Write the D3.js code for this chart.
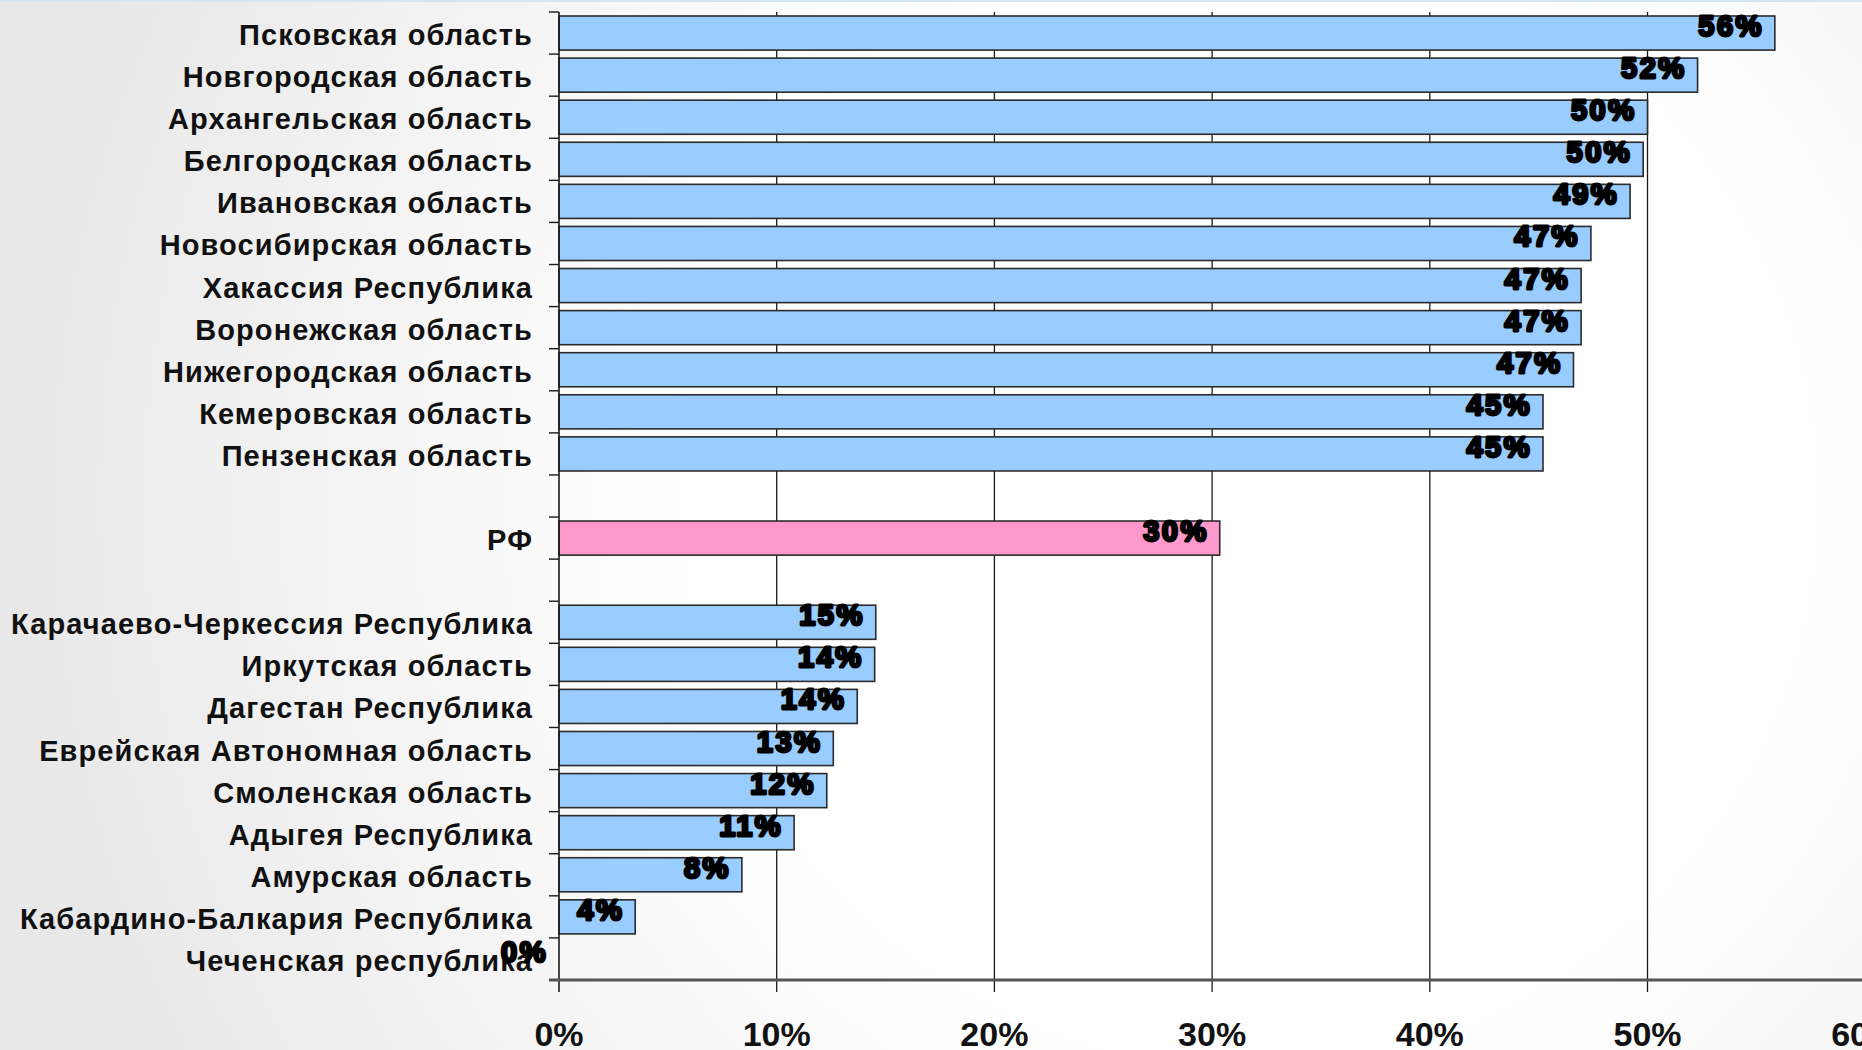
<!DOCTYPE html>
<html>
<head>
<meta charset="utf-8">
<script src="https://cdn.jsdelivr.net/npm/d3@7/dist/d3.min.js"></script>
<style>
  html, body { margin: 0; padding: 0; }
  body { width: 1862px; height: 1050px; overflow: hidden; }
  svg { display: block; }
</style>
</head>
<body>
<svg id="chart" width="1862" height="1050"></svg>
<script>
// ---- data ----
const topRegions = ["Псковская область", "Новгородская область", "Архангельская область", "Белгородская область",
  "Ивановская область", "Новосибирская область", "Хакассия Республика", "Воронежская область",
  "Нижегородская область", "Кемеровская область", "Пензенская область"];
const topValues = [55.85, 52.3, 50.0, 49.8, 49.2, 47.4, 46.95, 46.95, 46.6, 45.2, 45.2];
const topLabels = ["56%", "52%", "50%", "50%", "49%", "47%", "47%", "47%", "47%", "45%", "45%"];

const rfCategory = "РФ";
const rfValue = 30.35;
const rfLabel = "30%";

const bottomRegions = ["Карачаево-Черкессия Республика", "Иркутская область", "Дагестан Республика",
  "Еврейская Автономная область", "Смоленская область", "Адыгея Республика", "Амурская область",
  "Кабардино-Балкария Республика", "Чеченская республика"];
const bottomValues = [14.55, 14.5, 13.7, 12.6, 12.3, 10.8, 8.4, 3.5, 0];
const bottomLabels = ["15%", "14%", "14%", "13%", "12%", "11%", "8%", "4%", "0%"];

const xTickValues = [0, 10, 20, 30, 40, 50, 60];
const xTickLabels = ["0%", "10%", "20%", "30%", "40%", "50%", "60%"];

// ---- build rows ----
const rows = [];
topRegions.forEach((c, i) => rows.push({key: c, name: c, value: topValues[i], label: topLabels[i], kind: "region"}));
rows.push({key: "__gap1", name: "", value: null, label: "", kind: "gap"});
rows.push({key: rfCategory, name: rfCategory, value: rfValue, label: rfLabel, kind: "rf"});
rows.push({key: "__gap2", name: "", value: null, label: "", kind: "gap"});
bottomRegions.forEach((c, i) => rows.push({key: c, name: c, value: bottomValues[i], label: bottomLabels[i], kind: "region"}));

const svg = d3.select("#chart");
const W = 1862, H = 1050;

// background
const defs = svg.append("defs");
const grad = defs.append("radialGradient").attr("id", "bg")
  .attr("gradientUnits", "userSpaceOnUse")
  .attr("cx", 1250).attr("cy", 500).attr("r", 1250);
grad.append("stop").attr("offset", "0").attr("stop-color", "#ffffff");
grad.append("stop").attr("offset", "0.45").attr("stop-color", "#ffffff");
grad.append("stop").attr("offset", "1").attr("stop-color", "#e8e8e8");
svg.append("rect").attr("width", W).attr("height", H).attr("fill", "url(#bg)");
svg.append("rect").attr("x", 0).attr("y", 0).attr("width", W).attr("height", 2).attr("fill", "#d4e5f5");

// scales
const x = d3.scaleLinear().domain([0, 60]).range([559, 559 + 60 * 21.77]);
const y = d3.scaleBand().domain(rows.map(d => d.key)).range([12, 980]).paddingInner(0.19).paddingOuter(0.095);
const gapHalf = (y.step() - y.bandwidth()) / 2;

// vertical gridlines
svg.append("g").selectAll("line").data(xTickValues.slice(1)).join("line")
  .attr("x1", d => x(d)).attr("x2", d => x(d))
  .attr("y1", 12).attr("y2", 992)
  .attr("stroke", "#1a1a1a").attr("stroke-width", 1.3);

// bars
svg.append("g").selectAll("rect").data(rows.filter(d => d.kind !== "gap" && d.value > 0)).join("rect")
  .attr("x", x(0))
  .attr("y", d => y(d.key))
  .attr("width", d => x(d.value) - x(0))
  .attr("height", y.bandwidth())
  .attr("fill", d => d.kind === "rf" ? "#ff99cc" : "#99ccff")
  .attr("stroke", "#2b2b2b").attr("stroke-width", 1.6);

// y axis line + ticks between categories
svg.append("line").attr("x1", x(0)).attr("x2", x(0)).attr("y1", 12).attr("y2", 992)
  .attr("stroke", "#1a1a1a").attr("stroke-width", 1.6);
const boundaries = rows.map(d => y(d.key) - gapHalf);
svg.append("g").selectAll("line").data(boundaries).join("line")
  .attr("x1", x(0) - 10).attr("x2", x(0))
  .attr("y1", d => d).attr("y2", d => d)
  .attr("stroke", "#1a1a1a").attr("stroke-width", 1.4);

// x axis baseline
svg.append("line").attr("x1", x(0) - 10).attr("x2", W).attr("y1", 980).attr("y2", 980)
  .attr("stroke", "#555555").attr("stroke-width", 3);

// x tick labels
svg.append("g").selectAll("text").data(xTickValues).join("text")
  .attr("x", d => x(d))
  .attr("y", 1046)
  .attr("text-anchor", "middle")
  .attr("font-family", "Liberation Sans, Arial, sans-serif")
  .attr("font-weight", "bold")
  .attr("font-size", 34)
  .attr("fill", "#111")
  .text((d, i) => xTickLabels[i]);

// category labels
svg.append("g").selectAll("text").data(rows.filter(d => d.kind !== "gap")).join("text")
  .attr("x", 533)
  .attr("y", d => y(d.key) + y.bandwidth() / 2 + 12)
  .attr("text-anchor", "end")
  .attr("font-family", "Liberation Sans, Arial, sans-serif")
  .attr("font-weight", "bold")
  .attr("font-size", 29)
  .attr("letter-spacing", 1.1)
  .attr("fill", "#111")
  .text(d => d.name);

// value labels
svg.append("g").selectAll("text").data(rows.filter(d => d.kind !== "gap")).join("text")
  .attr("x", d => x(d.value) - 11)
  .attr("y", d => y(d.key) + y.bandwidth() / 2 + 3)
  .attr("text-anchor", "end")
  .attr("font-family", "Liberation Sans, Arial, sans-serif")
  .attr("font-weight", "bold")
  .attr("font-size", 29)
  .attr("letter-spacing", 2.5)
  .attr("fill", "#000")
  .attr("stroke", "#000")
  .attr("stroke-width", 2.8)
  .attr("stroke-linejoin", "round")
  .text(d => d.label);
</script>
</body>
</html>
